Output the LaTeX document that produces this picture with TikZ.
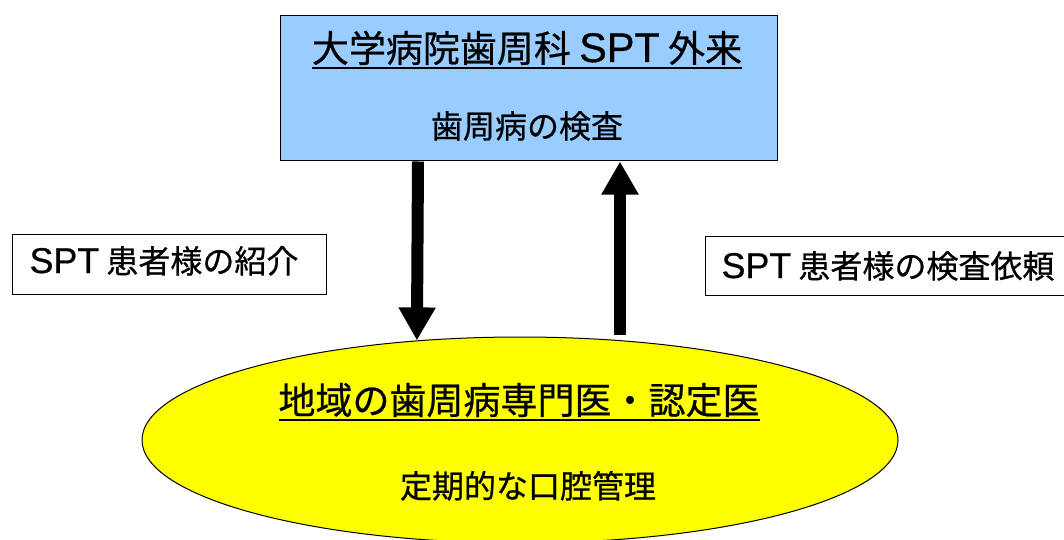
\documentclass[tikz,border=0pt]{standalone}
\usepackage{fontspec}
\newfontfamily\jpfont[FakeBold=0.6]{Noto Sans CJK JP}
\newfontfamily\latinfont[FakeBold=0.6,Scale=1.12]{Liberation Sans}
\usetikzlibrary{arrows.meta,shapes.geometric}
\definecolor{clinicblue}{HTML}{99CCFF}
\definecolor{localyellow}{HTML}{FFFF00}
\newcommand{\ulined}[1]{\setbox0=\hbox{#1}\rlap{\vrule width \wd0 height -5pt depth 7pt}\box0}
\newcommand{\spt}{{\latinfont SPT}}

\begin{document}
\begin{tikzpicture}[x=1pt,y=-1pt,
  every node/.style={inner sep=0pt},
  jptext/.style={font=\jpfont\fontsize{#1}{#1}\selectfont, anchor=base},
  plainbox/.style={draw=black, line width=1pt, fill=white},
  bigarrow/.style={line width=12pt, -{Triangle[length=33pt,width=35pt]}}]
\useasboundingbox (0,0) rectangle (1064,540);
% upper box
\node [plainbox, fill=clinicblue, minimum width=497pt, minimum height=145pt] (clinic) at (528.5,88.5) {};
\node [jptext=37] (clinicname) at (527,62) {\ulined{大学病院歯周科 \spt{} 外来}};
\node [jptext=32] (clinicwork) at (527,138) {歯周病の検査};
% lower ellipse
\node [ellipse, draw=black, line width=1pt, fill=localyellow, minimum width=756pt, minimum height=206pt] (local) at (520,440) {};
\node [jptext=37] (localname) at (519,414) {\ulined{地域の歯周病専門医・認定医}};
\node [jptext=32] (localwork) at (528,498) {定期的な口腔管理};
% side labels
\node [plainbox, minimum width=314pt, minimum height=60pt] (referral) at (169,264) {};
\node [jptext=32] at (164,273) {\spt{} 患者様の紹介};
\node [plainbox, minimum width=367pt, minimum height=59pt] (request) at (888.5,265.5) {};
\node [jptext=32] at (888,278) {\spt{} 患者様の検査依頼};
% arrows
\coordinate (downx) at (418,0);
\coordinate (upstart) at (620,335);
\draw [bigarrow] (clinic.south -| downx) -- (local.136);
\draw [bigarrow] (upstart) -- (clinic.south -| upstart);
\end{tikzpicture}
\end{document}
